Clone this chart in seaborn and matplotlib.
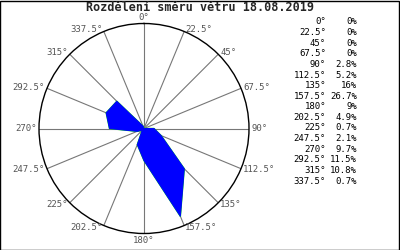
import numpy as np
import pandas as pd
import matplotlib
matplotlib.use("Agg")
import matplotlib.pyplot as plt
import seaborn as sns

directions = [0, 22.5, 45, 67.5, 90, 112.5, 135, 157.5, 180, 202.5, 225, 247.5, 270, 292.5, 315, 337.5]
dir_labels = ["0°", "22.5°", "45°", "67.5°", "90°", "112.5°", "135°", "157.5°", "180°",
              "202.5°", "225°", "247.5°", "270°", "292.5°", "315°", "337.5°"]
percent = [0, 0, 0, 0, 2.8, 5.2, 16, 26.7, 9, 4.9, 0.7, 2.1, 9.7, 11.5, 10.8, 0.7]
percent_labels = ["0%", "0%", "0%", "0%", "2.8%", "5.2%", "16%", "26.7%", "9%",
                  "4.9%", "0.7%", "2.1%", "9.7%", "11.5%", "10.8%", "0.7%"]
title = "Rozdělení směru větru 18.08.2019"

sns.set_style("white")
plt.rcParams['font.family'] = ['DejaVu Sans Mono', 'DejaVu Sans']

fig = plt.figure(figsize=(4, 2.5), dpi=100)
fig.patch.set_facecolor("white")
fig.add_artist(plt.Rectangle((0.001, 0.002), 0.997, 0.995, transform=fig.transFigure,
                             fill=False, edgecolor="black", linewidth=1))

ax = fig.add_axes([0.0975, 0.066, 0.525, 0.84], projection="polar")
ax.set_theta_zero_location("N")
ax.set_theta_direction(-1)
rmax = 29.5
ax.set_ylim(0, rmax)

theta = np.deg2rad(directions)
df = pd.DataFrame({"theta": np.append(theta, theta[0]), "r": percent + [percent[0]]})
sns.lineplot(data=df, x="theta", y="r", sort=False, ax=ax, color="#00dd00",
             linewidth=1.0, zorder=2, estimator=None)
ax.fill(df["theta"], df["r"], facecolor="#0000ff", edgecolor="#0000ff",
        zorder=3, linewidth=0.7)

ax.set_xticks(theta)
ax.set_xticklabels([])
ax.tick_params(axis="x", length=0)
ax.set_yticks([])
ax.set_xlabel("")
ax.set_ylabel("")
ax.grid(True, axis="x", color="#777777", linewidth=0.8)
ax.spines["polar"].set_color("black")
ax.spines["polar"].set_linewidth(1)

for t, lab in zip(theta, dir_labels):
    s, c = np.sin(t), np.cos(t)
    ha = "left" if s > 0.1 else ("right" if s < -0.1 else "center")
    va = "bottom" if c > 0.95 else ("top" if c < -0.95 else "center")
    off = 1.5 if c > 0.95 else 2.5
    ax.annotate(lab, xy=(t, rmax), xytext=(off * s, off * c), textcoords="offset pixels",
                ha=ha, va=va, fontsize=6.5, color="#555555", annotation_clip=False)

fig.text(0.5, 0.97, title, ha="center", va="center", fontsize=8.5, fontweight="bold")

for i, (d, p) in enumerate(zip(dir_labels, percent_labels)):
    y = 1 - (22 + i * 10.6) / 250
    fig.text(326 / 400, y, d, ha="right", va="center", fontsize=6.5, color="black")
    fig.text(357 / 400, y, p, ha="right", va="center", fontsize=6.5, color="black")

fig.savefig("out.png", dpi=100)
